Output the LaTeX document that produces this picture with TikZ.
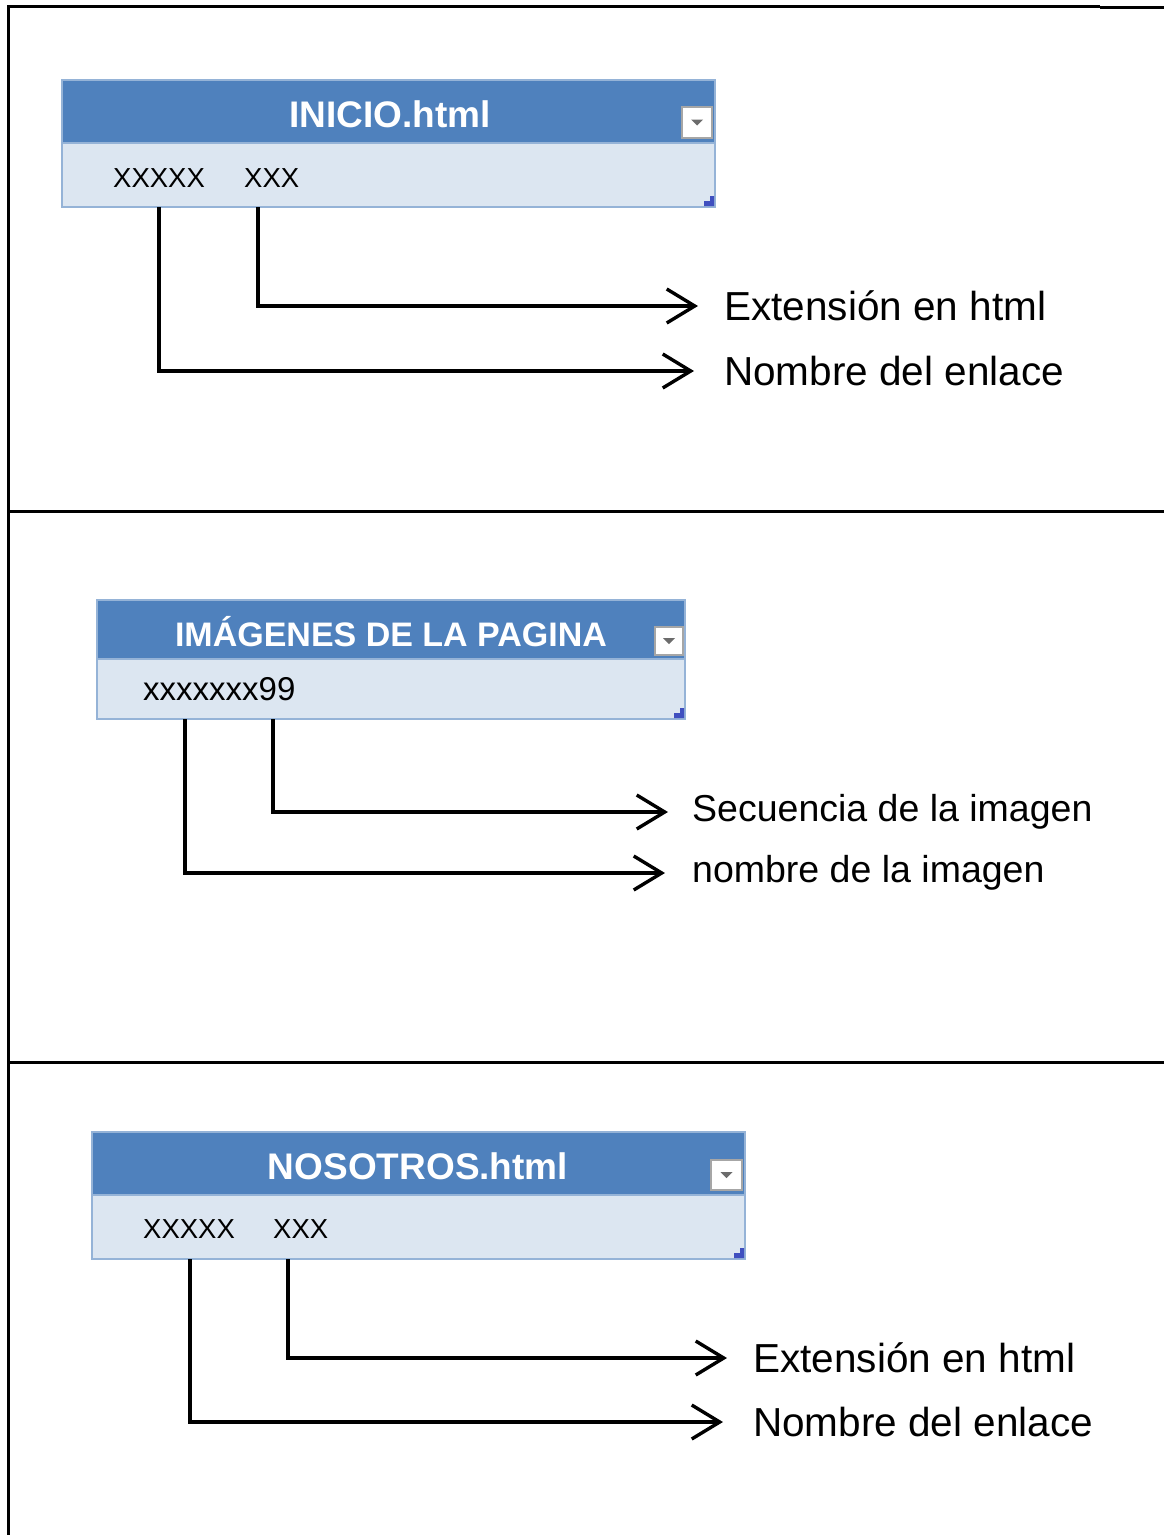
\documentclass[tikz,border=0pt]{standalone}
\usepackage{fontspec}
\setmainfont{Liberation Sans}
\usetikzlibrary{arrows.meta}
\definecolor{hdr}{HTML}{4F81BD}
\definecolor{bdy}{HTML}{DCE6F1}
\definecolor{bdr}{HTML}{95B3D7}
\definecolor{crn}{HTML}{3F4FBF}
\tikzset{
  hdrbox/.style={fill=hdr, draw=bdr, line width=1.2pt},
  bdybox/.style={fill=bdy, draw=bdr, line width=1.2pt},
  hdrtext/.style={text=white, font=\bfseries\fontsize{37}{40}\selectfont, inner sep=0pt},
  celltext/.style={text=black, font=\fontsize{27.5}{30}\selectfont, inner sep=0pt, anchor=west},
  lbltext/.style={text=black, font=\fontsize{40.5}{44}\selectfont, inner sep=0pt, anchor=west},
  conn/.style={line width=3.4pt, -{Straight Barb[length=28pt,width=34pt,line width=3.4pt]}},
  frameline/.style={line width=3pt, black},
}
\newcommand{\ddicon}[4]{% x1 y1 x2 y2 (pixel coords)
  \fill[white] (#1,#2) rectangle (#3,#4);
  \draw[gray!70, line width=1.2pt] (#1,#2) rectangle (#3,#4);
  \fill[gray!85!black] ({(#1+#3)/2-6},{(#2+#4)/2-3}) -- ({(#1+#3)/2+6},{(#2+#4)/2-3}) -- ({(#1+#3)/2},{(#2+#4)/2+3}) -- cycle;
}
\newcommand{\crnmark}[2]{% bottom-right corner x y
  \fill[crn] (#1-10,#2) -- (#1,#2) -- (#1,#2-10) -- (#1-4,#2-10) -- (#1-4,#2-5) -- (#1-10,#2-5) -- cycle;
}
\begin{document}
\begin{tikzpicture}[x=1pt,y=-1pt]
\useasboundingbox (0,0) rectangle (1164,1535);
% frame
\draw[frameline] (8,1535) -- (8,6) -- (1100,6);
\draw[frameline] (1100,7) -- (1164,7);
\draw[frameline] (8,511) -- (1164,511);
\draw[frameline] (8,1062) -- (1164,1062);

% ---------- Box 1 ----------
\draw[hdrbox] (62,80) rectangle (715,143);
\draw[bdybox] (62,143) rectangle (715,207);
\node[hdrtext] (h1) at (390,114) {INICIO.html};
\ddicon{682}{107}{712}{138}
\crnmark{714}{206}
\node[celltext] (a1) at (113,178) {XXXXX};
\node[celltext] (b1) at (244,178) {XXX};
\coordinate (a1s) at (159,207);
\coordinate (b1s) at (258,207);
\node[lbltext] (l1b) at (724,306) {Extensión en html};
\node[lbltext] (l1a) at (724,371) {Nombre del enlace};
\draw[conn] (b1s) |- ([xshift=-26pt]l1b.west);
\draw[conn] (a1s) |- ([xshift=-30pt]l1a.west);

% ---------- Box 2 ----------
\draw[hdrbox] (97,600) rectangle (685,659);
\draw[bdybox] (97,659) rectangle (685,719);
\node[text=white, font=\bfseries\fontsize{34}{37}\selectfont, inner sep=0pt] (h2) at (391,632) {IMÁGENES DE LA PAGINA};
\ddicon{655}{627}{683}{655}
\crnmark{684}{718}
\node[celltext, font=\fontsize{33}{36}\selectfont] (a2) at (143,689) {xxxxxxx99};
\coordinate (a2s) at (185,719);
\coordinate (b2s) at (273,719);
\node[lbltext, font=\fontsize{37.5}{40}\selectfont] (l2b) at (692,812) {Secuencia de la imagen};
\node[lbltext, font=\fontsize{37.5}{40}\selectfont] (l2a) at (692,873) {nombre de la imagen};
\draw[conn] (b2s) |- ([xshift=-24pt]l2b.west);
\draw[conn] (a2s) |- ([xshift=-27pt]l2a.west);

% ---------- Box 3 ----------
\draw[hdrbox] (92,1132) rectangle (745,1195);
\draw[bdybox] (92,1195) rectangle (745,1259);
\node[hdrtext] (h3) at (418,1166) {NOSOTROS.html};
\ddicon{711}{1160}{742}{1190}
\crnmark{744}{1258}
\node[celltext] (a3) at (143,1229) {XXXXX};
\node[celltext] (b3) at (273,1229) {XXX};
\coordinate (a3s) at (190,1259);
\coordinate (b3s) at (288,1259);
\node[lbltext] (l3b) at (753,1358) {Extensión en html};
\node[lbltext] (l3a) at (753,1422) {Nombre del enlace};
\draw[conn] (b3s) |- ([xshift=-26pt]l3b.west);
\draw[conn] (a3s) |- ([xshift=-30pt]l3a.west);
\end{tikzpicture}
\end{document}
